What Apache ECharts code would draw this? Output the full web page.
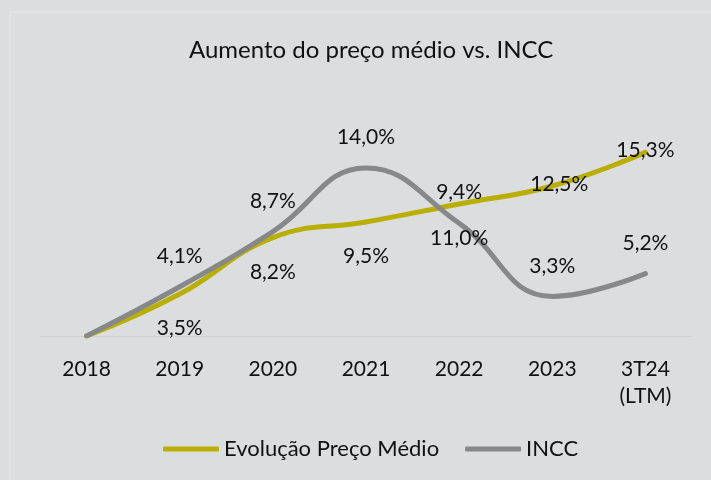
<!DOCTYPE html>
<html>
<head>
<meta charset="utf-8">
<title>Aumento do preço médio vs. INCC</title>
<script src="https://cdn.jsdelivr.net/npm/echarts@6/dist/echarts.min.js"></script>
<style>
  html, body { margin: 0; padding: 0; background: #dcdddf; }
  #main { width: 711px; height: 480px; }
</style>
</head>
<body>
<div id="main"></div>
<script>
// categorias do eixo x
const categories = ['2018', '2019', '2020', '2021', '2022', '2023', '3T24\n(LTM)']
// valores em %
const precoMedio = [0, 3.5, 8.2, 9.5, 11.0, 12.5, 15.3]
const incc = [0, 4.1, 8.7, 14.0, 9.4, 3.3, 5.2]

const FONT = 'Lato, "Noto Sans", sans-serif'
const fmt = v => v.toFixed(1).replace('.', ',') + '%'

// rótulos do preço médio: abaixo da linha, os dois últimos em cima do ponto
const precoData = precoMedio.map((v, i) => ({
  value: v,
  label: i === 0 ? { show: false } : (i >= 5 ? { position: 'inside', offset: [i === 5 ? 7 : 0, -2] } : {})
}))
const inccData = incc.map((v, i) => ({
  value: v,
  label: i === 0 ? { show: false } : {}
}))

const chart = echarts.init(document.getElementById('main'))

chart.setOption({
  backgroundColor: '#dcdddf',
  animation: false,
  textStyle: { fontFamily: FONT },
  graphic: [{
    type: 'rect',
    shape: { x: 10, y: 12, width: 720, height: 490 },
    style: { fill: 'none', stroke: '#e6e7e8', lineWidth: 1 },
    silent: true,
    z: -1
  }],
  title: {
    text: 'Aumento do preço médio vs. INCC',
    left: 184,
    top: 33,
    textStyle: { fontFamily: FONT, fontSize: 24, fontWeight: 'normal', color: '#111' }
  },
  legend: {
    bottom: 15,
    left: 158,
    icon: 'roundRect',
    itemWidth: 56,
    itemHeight: 5,
    itemGap: 26,
    textStyle: { fontFamily: FONT, fontSize: 22, color: '#111' },
    data: ['Evolução Preço Médio', 'INCC']
  },
  grid: { left: 40, right: 19, top: 144, bottom: 144 },
  xAxis: {
    type: 'category',
    data: categories,
    axisLine: { lineStyle: { color: '#cfd0d2', width: 1 } },
    axisTick: { show: false },
    axisLabel: {
      fontFamily: FONT,
      fontSize: 21,
      color: '#111',
      margin: 20,
      lineHeight: 27
    }
  },
  yAxis: {
    type: 'value',
    min: 0,
    max: 16,
    show: false,
    splitLine: { show: false }
  },
  series: [
    {
      name: 'Evolução Preço Médio',
      type: 'line',
      data: precoData,
      smooth: 0.45,
      symbol: 'circle',
      symbolSize: 0,
      itemStyle: { color: '#b8af00' },
      lineStyle: { color: '#b8af00', width: 5, cap: 'round' },
      label: {
        show: true,
        position: 'bottom',
        distance: 24,
        formatter: p => fmt(p.value),
        fontFamily: FONT,
        fontSize: 21,
        color: '#111'
      }
    },
    {
      name: 'INCC',
      type: 'line',
      data: inccData,
      smooth: 0.45,
      symbol: 'circle',
      symbolSize: 0,
      itemStyle: { color: '#878889' },
      lineStyle: { color: '#878889', width: 5, cap: 'round' },
      label: {
        show: true,
        position: 'top',
        distance: 20,
        formatter: p => fmt(p.value),
        fontFamily: FONT,
        fontSize: 21,
        color: '#111'
      }
    }
  ]
})
</script>
</body>
</html>
